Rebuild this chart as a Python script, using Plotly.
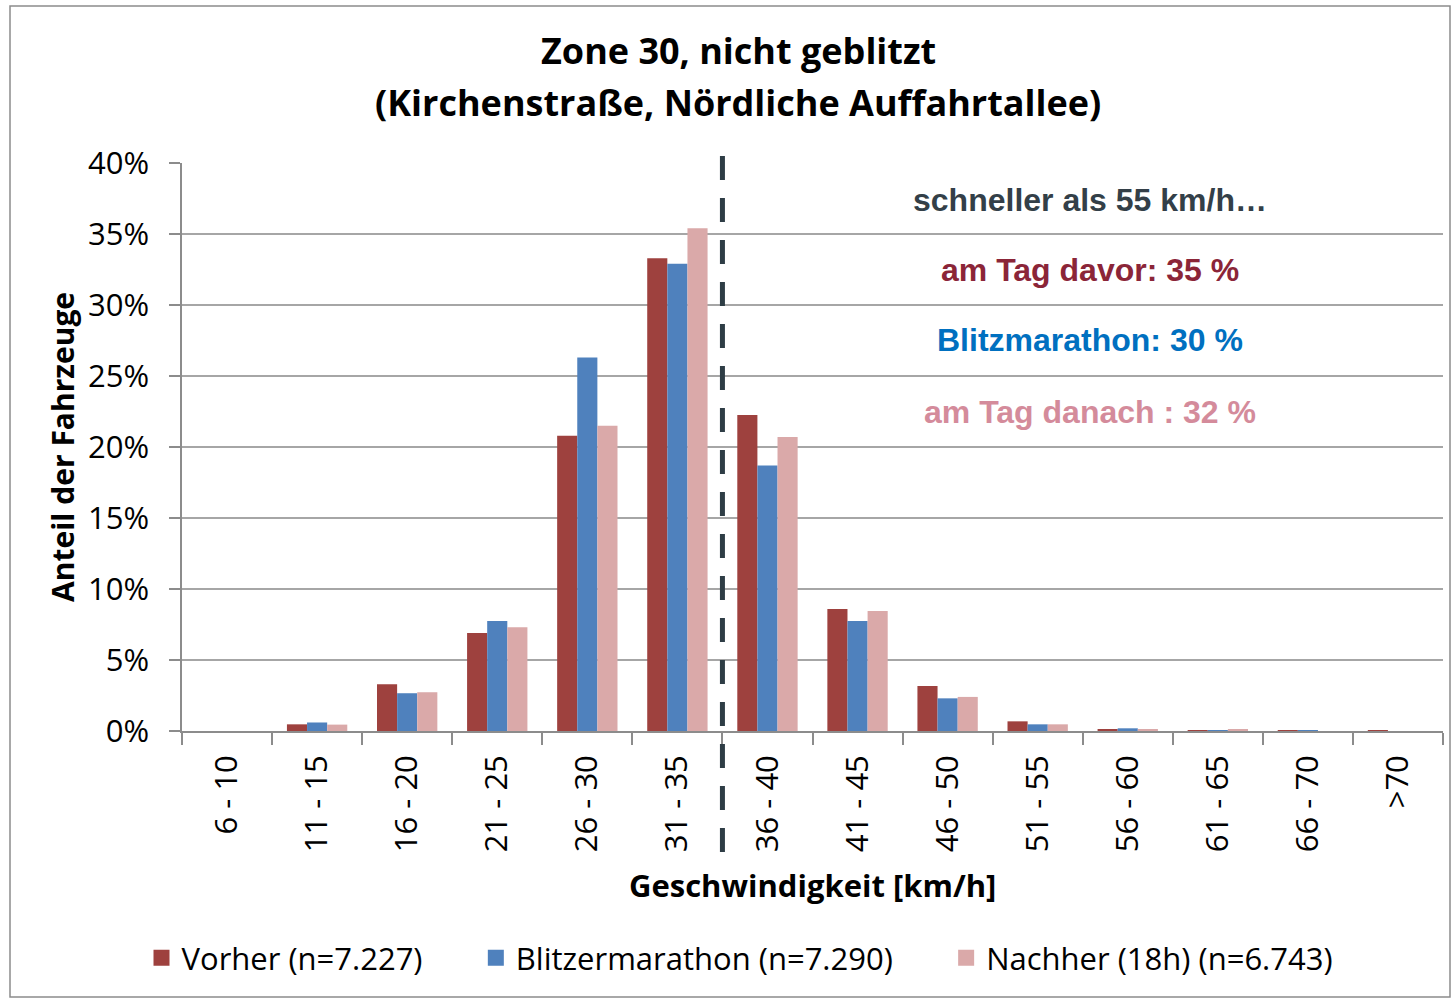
import plotly.graph_objects as go

# speed classes and shares (%)
categories = ['6 - 10', '11 - 15', '16 - 20', '21 - 25', '26 - 30', '31 - 35', '36 - 40',
              '41 - 45', '46 - 50', '51 - 55', '56 - 60', '61 - 65', '66 - 70', '>70']
vorher = [0.0, 0.47, 3.3, 6.9, 20.8, 33.3, 22.25, 8.6, 3.17, 0.68, 0.12, 0.03, 0.03, 0.04]
blitzmarathon = [0.0, 0.6, 2.66, 7.75, 26.3, 32.9, 18.7, 7.75, 2.3, 0.47, 0.19, 0.03, 0.03, 0.0]
nachher = [0.0, 0.45, 2.73, 7.3, 21.5, 35.4, 20.7, 8.45, 2.4, 0.47, 0.12, 0.1, 0.0, 0.0]

series_names = ['Vorher (n=7.227)', 'Blitzermarathon (n=7.290)', 'Nachher (18h) (n=6.743)']
series_colors = ['#9E413E', '#4F81BD', '#DAA9A9']

title_lines = ['Zone 30, nicht geblitzt', '(Kirchenstraße, Nördliche Auffahrtallee)']
notes = ['schneller als 55 km/h…', 'am Tag davor: 35 %', 'Blitzmarathon: 30 %', 'am Tag danach : 32 %']
note_colors = ['#333F48', '#8B2538', '#0070C0', '#D48B9B']

FONT = 'Open Sans'

fig = go.Figure()
for name, vals, col in zip(series_names, [vorher, blitzmarathon, nachher], series_colors):
    fig.add_trace(go.Bar(x=categories, y=[v / 100 for v in vals], name=name, showlegend=False,
                         marker=dict(color=col, line=dict(width=0))))
# legend entries with bigger square keys (like the Excel legend)
for i, (name, col) in enumerate(zip(series_names, series_colors)):
    pad = '\u00a0' * 6 if i < 2 else ''
    fig.add_trace(go.Scatter(x=[None], y=[None], mode='markers', name=name + pad,
                             marker=dict(symbol='square', size=20, color=col)))

# plot area: x 182..1443, y 163..731
L, R, T, B = 182, 10, 163, 268
W, H = 1453 - L - R, 999 - T - B


def px_x(px):
    return (px - L) / W


def px_y(py):
    return (999 - B - py) / H


# title as two annotations so the line spacing matches
for txt, yy in zip(title_lines, [50, 103]):
    fig.add_annotation(text='<b>%s</b>' % txt, x=px_x(738), y=px_y(yy), xref='paper', yref='paper',
                       xanchor='center', yanchor='middle', showarrow=False,
                       font=dict(family=FONT, size=36, color='black'))

note_y = [200, 270, 340, 412]
for txt, col, yy in zip(notes, note_colors, note_y):
    fig.add_annotation(text='<b>%s</b>' % txt, x=px_x(1090), y=px_y(yy), xref='paper', yref='paper',
                       xanchor='center', yanchor='middle', showarrow=False,
                       font=dict(family='Liberation Sans, Arial', size=32, color=col))

# x axis title
fig.add_annotation(text='<b>Geschwindigkeit [km/h]</b>', x=px_x(812), y=px_y(885), xref='paper',
                   yref='paper', xanchor='center', yanchor='middle', showarrow=False,
                   font=dict(family=FONT, size=31, color='black'))
# y axis title
fig.add_annotation(text='<b>Anteil der Fahrzeuge</b>', x=px_x(62), y=px_y(447), xref='paper',
                   yref='paper', xanchor='center', yanchor='middle', showarrow=False, textangle=-90,
                   font=dict(family=FONT, size=30, color='black'))

# dashed separator between 31-35 and 36-40
fig.add_shape(type='line', xref='x', yref='paper', x0=5.5, x1=5.5, y0=px_y(852), y1=px_y(156),
              line=dict(color='#2E3D45', width=5, dash='24px,18px'))

# outer chart border
fig.add_shape(type='rect', xref='paper', yref='paper', x0=px_x(10), x1=px_x(1450),
              y0=px_y(997), y1=px_y(6), line=dict(color='#8C8C8C', width=1.5))

fig.update_layout(
    width=1453, height=999,
    margin=dict(l=L, r=R, t=T, b=B),
    paper_bgcolor='white', plot_bgcolor='white',
    font=dict(family=FONT, size=31, color='black'),
    barmode='group', bargap=0.33, bargroupgap=0,
    showlegend=True,
    legend=dict(orientation='h', x=px_x(740), xanchor='center', y=px_y(958), yanchor='middle',
                font=dict(family=FONT, size=31), itemwidth=30, itemsizing='trace', tracegroupgap=0),
    xaxis=dict(type='category', tickangle=-90, tickson='boundaries', ticks='outside', ticklen=12,
               tickcolor='#8C8C8C', tickwidth=1.5, showline=True, linecolor='#8C8C8C', linewidth=1.5,
               showgrid=False, range=[-0.5, 13.5], automargin=False, ticklabelstandoff=10,
               tickfont=dict(family=FONT, size=31)),
    yaxis=dict(range=[0, 0.4], dtick=0.05, tickformat='.0%', ticks='outside', ticklen=11,
               tickcolor='#8C8C8C', tickwidth=1.5, showline=True, linecolor='#8C8C8C', linewidth=1.5,
               gridcolor='#A6A6A6', gridwidth=1.5, zeroline=False, automargin=False,
               ticklabelstandoff=14, tickfont=dict(family=FONT, size=31)),
)

# drop the default 8px page margin so the figure sits at the window origin
fig.write_html('out.html', config={'displayModeBar': False},
               post_script="document.body.style.margin='0';")
